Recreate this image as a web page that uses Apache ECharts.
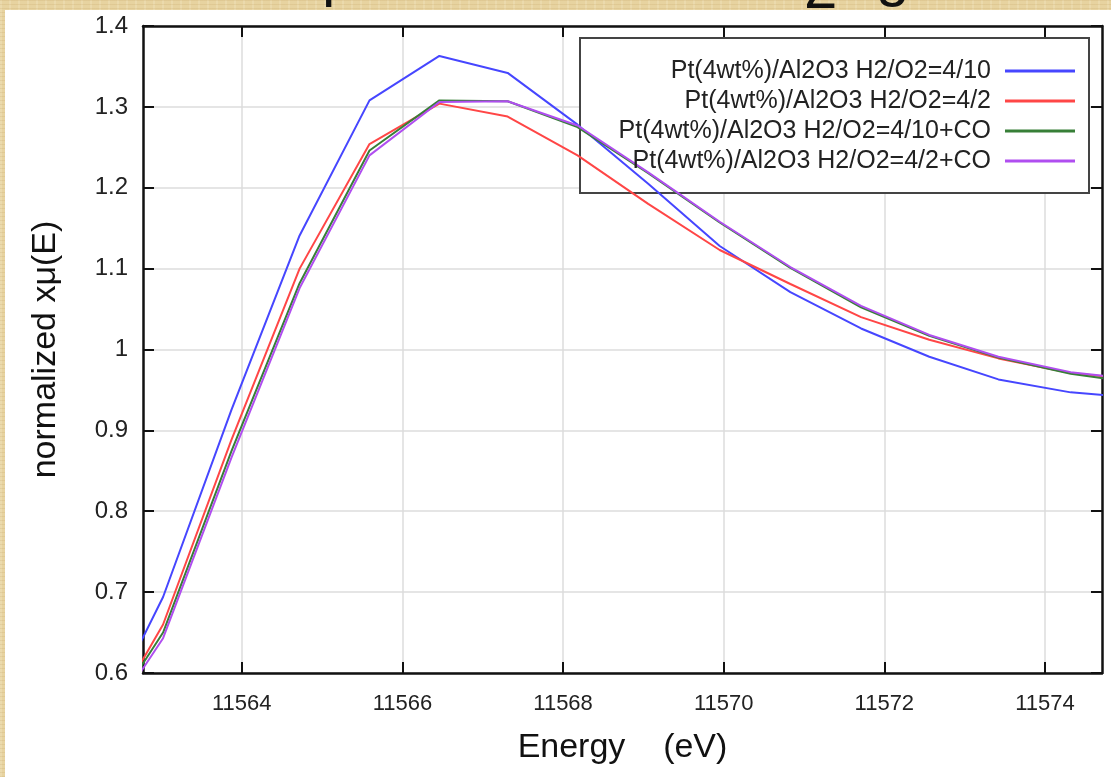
<!DOCTYPE html>
<html>
<head>
<meta charset="utf-8">
<script src="https://cdn.jsdelivr.net/npm/echarts@6/dist/echarts.min.js"></script>
<style>
html,body{margin:0;padding:0;width:1111px;height:777px;overflow:hidden;}
body{
  background-color:#e7d3a0;
  background-image:
    repeating-linear-gradient(0deg, rgba(170,130,60,0.13) 0px, rgba(170,130,60,0.13) 1px, transparent 1px, transparent 4px),
    repeating-linear-gradient(90deg, rgba(255,250,230,0.18) 0px, rgba(255,250,230,0.18) 2px, transparent 2px, transparent 9px);
}
.tg{position:absolute;font-family:"Liberation Sans",Arial,sans-serif;font-size:60px;line-height:60px;color:#111;}
#panel{position:absolute;left:5px;top:10px;width:1106px;height:767px;background:#ffffff;}
#chart{position:absolute;left:0;top:0;width:1111px;height:777px;}
</style>
</head>
<body>
<span class="tg" style="left:322px;top:-55px;">p</span>
<span class="tg" style="left:804px;top:-42px;">2</span>
<span class="tg" style="left:876px;top:-55px;">g</span>
<div id="panel"></div>
<div id="chart"></div>
<script>
// ---- data ----
const energy = [11562.15, 11563.02, 11563.87, 11564.72, 11565.59, 11566.46, 11567.31, 11568.18, 11569.06, 11569.95, 11570.83, 11571.71, 11572.56, 11573.42, 11574.32, 11575.20];
const h2o2_4_10    = [0.520, 0.694, 0.925, 1.141, 1.308, 1.363, 1.342, 1.278, 1.205, 1.128, 1.071, 1.026, 0.991, 0.963, 0.947, 0.940];
const h2o2_4_2     = [0.510, 0.660, 0.888, 1.100, 1.254, 1.304, 1.288, 1.240, 1.180, 1.123, 1.081, 1.040, 1.012, 0.989, 0.971, 0.962];
const h2o2_4_10_co = [0.517, 0.650, 0.874, 1.082, 1.246, 1.308, 1.307, 1.275, 1.218, 1.157, 1.101, 1.052, 1.017, 0.990, 0.970, 0.958];
const h2o2_4_2_co  = [0.513, 0.643, 0.866, 1.076, 1.240, 1.306, 1.307, 1.277, 1.219, 1.158, 1.102, 1.054, 1.018, 0.991, 0.972, 0.962];
const seriesNames = [
  'Pt(4wt%)/Al2O3 H2/O2=4/10',
  'Pt(4wt%)/Al2O3 H2/O2=4/2',
  'Pt(4wt%)/Al2O3 H2/O2=4/10+CO',
  'Pt(4wt%)/Al2O3 H2/O2=4/2+CO'
];
const xTicks = [11564, 11566, 11568, 11570, 11572, 11574];
const xTickLabels = ['11564', '11566', '11568', '11570', '11572', '11574'];
const yTicks = [0.6, 0.7, 0.8, 0.9, 1.0, 1.1, 1.2, 1.3, 1.4];
const yTickLabels = ['0.6', '0.7', '0.8', '0.9', '1', '1.1', '1.2', '1.3', '1.4'];
const xName = 'Energy    (eV)';
const yName = 'normalized x\u03bc(E)';

// ---- chart ----
const FONT = '"Liberation Sans", Arial, sans-serif';
const colors = ['#4646ff', '#ff4646', '#377f37', '#b04ef0'];
const allValues = [h2o2_4_10, h2o2_4_2, h2o2_4_10_co, h2o2_4_2_co];

const chart = echarts.init(document.getElementById('chart'), null, {renderer: 'canvas'});

const frameLine = {lineStyle: {color: '#111', width: 2.5}};
const tickStyle = {inside: true, length: 11, lineStyle: {color: '#111', width: 2}};

const series = allValues.map((vals, i) => ({
  name: seriesNames[i],
  type: 'line',
  xAxisIndex: 0,
  yAxisIndex: 0,
  data: energy.map((e, k) => [e, vals[k]]),
  symbol: 'none',
  showSymbol: false,
  clip: true,
  color: colors[i],
  lineStyle: {color: colors[i], width: 2},
  z: 3
}));

const legendRowCenters = [71, 101, 131, 161];
const legends = seriesNames.map((n, i) => ({
  data: [{name: n, icon: 'rect'}],
  orient: 'vertical',
  right: 36,
  top: legendRowCenters[i] - 14,
  align: 'right',
  itemWidth: 70,
  itemHeight: 3,
  padding: 0,
  selectedMode: false,
  itemStyle: {borderWidth: 0},
  lineStyle: {width: 0},
  textStyle: {fontSize: 25, fontFamily: FONT, color: '#222', lineHeight: 28, padding: [0, 9, 0, 0]}
}));

const option = {
  animation: false,
  backgroundColor: 'transparent',
  grid: {left: 143, right: 9, top: 26, bottom: 104, containLabel: false},
  xAxis: [
    {
      type: 'value', position: 'bottom', min: 11562.77, max: 11574.71,
      axisLine: {show: true, onZero: false, ...frameLine},
      axisTick: {...tickStyle, customValues: xTicks},
      axisLabel: {
        customValues: xTicks, margin: 20, fontSize: 22, fontFamily: FONT, color: '#222',
        formatter: v => xTickLabels[xTicks.indexOf(Math.round(v))] || String(v)
      },
      splitLine: {show: true, lineStyle: {color: '#dcdcdc', width: 1.5}},
      name: xName, nameLocation: 'middle', nameGap: 58,
      nameTextStyle: {fontSize: 34, fontFamily: FONT, color: '#111'}
    },
    {
      type: 'value', position: 'top', min: 11562.77, max: 11574.71,
      axisLine: {show: true, onZero: false, ...frameLine},
      axisTick: {...tickStyle, customValues: xTicks},
      axisLabel: {show: false},
      splitLine: {show: false}
    }
  ],
  yAxis: [
    {
      type: 'value', position: 'left', min: 0.6, max: 1.4, interval: 0.1,
      axisLine: {show: true, onZero: false, ...frameLine},
      axisTick: {...tickStyle},
      axisLabel: {
        margin: 15, fontSize: 24, fontFamily: FONT, color: '#222',
        formatter: v => {
          const idx = yTicks.findIndex(t => Math.abs(t - v) < 1e-6);
          return idx >= 0 ? yTickLabels[idx] : '';
        }
      },
      splitLine: {show: true, lineStyle: {color: '#dcdcdc', width: 1.5}},
      name: yName, nameLocation: 'middle', nameGap: 80,
      nameTextStyle: {fontSize: 34, fontFamily: FONT, color: '#111'}
    },
    {
      type: 'value', position: 'right', min: 0.6, max: 1.4, interval: 0.1,
      axisLine: {show: true, onZero: false, ...frameLine},
      axisTick: {...tickStyle},
      axisLabel: {show: false},
      splitLine: {show: false}
    }
  ],
  legend: legends,
  graphic: [
    {
      type: 'rect', z: 1, silent: true,
      shape: {x: 580, y: 38, width: 509, height: 155},
      style: {fill: '#ffffff', stroke: '#444444', lineWidth: 2}
    }
  ],
  series: series
};
chart.setOption(option);
</script>
</body>
</html>
